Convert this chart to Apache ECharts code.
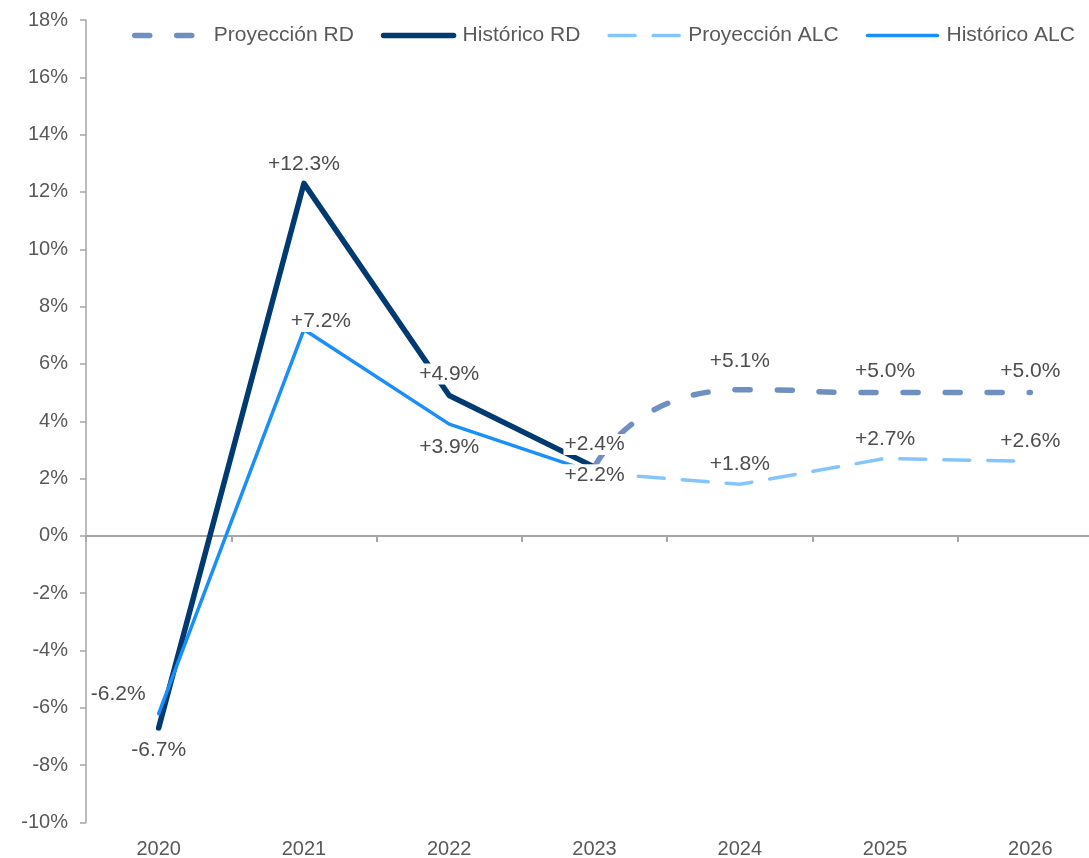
<!DOCTYPE html>
<html>
<head>
<meta charset="utf-8">
<script src="https://cdn.jsdelivr.net/npm/echarts@6/dist/echarts.min.js"></script>
<style>
  html, body { margin: 0; padding: 0; background: #ffffff; }
  #chart { width: 1089px; height: 858px; }
</style>
</head>
<body>
<div id="chart"></div>
<script>
// Annual growth (%) — historical values and projections
const years = ['2020', '2021', '2022', '2023', '2024', '2025', '2026'];
const histRD  = [-6.7, 12.3, 4.9, 2.4, null, null, null];
const projRD  = [null, null, null, 2.4, 5.1, 5.0, 5.0];
const histALC = [-6.2, 7.2, 3.9, 2.2, null, null, null];
const projALC = [null, null, null, 2.2, 1.8, 2.7, 2.6];
const seriesNames = ['Proyección RD', 'Histórico RD', 'Proyección ALC', 'Histórico ALC'];

const FONT = '"Liberation Sans", Arial, sans-serif';
const AXIS_GREY = '#a6a6a6';
const TEXT_GREY = '#595959';

// line looks shared by each series and its legend entry
const styles = {
  'Proyección RD':  { color: '#6f8fbf', width: 5.5, type: [15, 27], smooth: 0.7 },
  'Histórico RD':   { color: '#003a70', width: 5.5, type: 'solid', smooth: false },
  'Proyección ALC': { color: '#86c5fb', width: 3.5, type: [26, 18], smooth: false },
  'Histórico ALC':  { color: '#1a8ff8', width: 3.5, type: 'solid', smooth: false }
};

// where each value label sits relative to its point
const placements = {
  histRD: [
    { position: 'bottom', distance: 12 },
    { position: 'top', distance: 9 },
    { position: 'top', distance: 11 },
    { position: 'top', distance: 12 },
    null, null, null
  ],
  projRD: [null, null, null, null,
    { position: 'top', distance: 18 },
    { position: 'top', distance: 11 },
    { position: 'top', distance: 11 }
  ],
  histALC: [
    { position: 'left', distance: 12, offset: [0, -19] },
    { position: 'inside', offset: [17, -8] },
    { position: 'bottom', distance: 13 },
    { position: 'inside', offset: [0, 2] },
    null, null, null
  ],
  projALC: [null, null, null, null,
    { position: 'top', distance: 10 },
    { position: 'top', distance: 9 },
    { position: 'top', distance: 10 }
  ]
};

const fmt = v => (v > 0 ? '+' : '') + v.toFixed(1) + '%';

function buildData(values, place) {
  return values.map((v, i) => {
    if (v === null) return '-';
    const p = place[i];
    return {
      value: v,
      label: p ? Object.assign({ show: true }, p) : { show: false }
    };
  });
}

const baseLabel = {
  formatter: p => fmt(p.value),
  fontSize: 21,
  lineHeight: 21,
  fontFamily: FONT,
  color: '#4d4d4d',
  backgroundColor: '#ffffff',
  padding: [0, 1]
};

function lineSeries(name, values, place) {
  const s = styles[name];
  return {
    name: name,
    type: 'line',
    data: buildData(values, place),
    xAxisIndex: 0,
    yAxisIndex: 0,
    smooth: s.smooth,
    showSymbol: true,
    symbol: 'circle',
    symbolSize: 0,
    itemStyle: { color: 'rgba(0,0,0,0)' },
    lineStyle: { color: s.color, width: s.width, type: s.type, cap: 'round', join: 'round' },
    label: Object.assign({ show: false }, baseLabel),
    emphasis: { disabled: true },
    animation: false
  };
}

const chart = echarts.init(document.getElementById('chart'), null, { renderer: 'canvas' });

chart.setOption({
  backgroundColor: '#ffffff',
  animation: false,
  // the plot runs a little past the right edge of the canvas
  grid: { left: 86, width: 1017, top: 20, height: 802.5, containLabel: false, outerBoundsMode: 'none' },
  legend: {
    top: 20,
    left: 127,
    itemWidth: 70,
    itemHeight: 14,
    itemGap: 27,
    selectedMode: false,
    data: seriesNames.map(n => ({
      name: n,
      itemStyle: { opacity: 0 },
      lineStyle: { color: styles[n].color, width: styles[n].width, type: styles[n].type, cap: 'round' }
    })),
    textStyle: { fontSize: 21, color: TEXT_GREY, fontFamily: FONT, padding: [0, 0, 0, 4] }
  },
  xAxis: [
    {
      type: 'category',
      data: years,
      boundaryGap: true,
      axisLine: { show: true, onZero: true, lineStyle: { color: AXIS_GREY, width: 2 } },
      axisTick: { show: true, length: 6, lineStyle: { color: AXIS_GREY, width: 2 } },
      axisLabel: { show: false },
      splitLine: { show: false }
    },
    {
      type: 'category',
      data: years,
      position: 'bottom',
      boundaryGap: true,
      axisLine: { show: false, onZero: false },
      axisTick: { show: false },
      axisLabel: { show: true, margin: 17, fontSize: 20, color: TEXT_GREY, fontFamily: FONT },
      splitLine: { show: false }
    }
  ],
  yAxis: {
    type: 'value',
    min: -10,
    max: 18,
    interval: 2,
    axisLine: { show: true, lineStyle: { color: AXIS_GREY, width: 1.5 } },
    axisTick: { show: true, length: 6, lineStyle: { color: AXIS_GREY, width: 1.5 } },
    axisLabel: { formatter: '{value}%', margin: 18, fontSize: 20, color: TEXT_GREY, fontFamily: FONT },
    splitLine: { show: false }
  },
  series: [
    lineSeries('Proyección RD', projRD, placements.projRD),
    lineSeries('Histórico RD', histRD, placements.histRD),
    lineSeries('Proyección ALC', projALC, placements.projALC),
    lineSeries('Histórico ALC', histALC, placements.histALC)
  ]
});
</script>
</body>
</html>
